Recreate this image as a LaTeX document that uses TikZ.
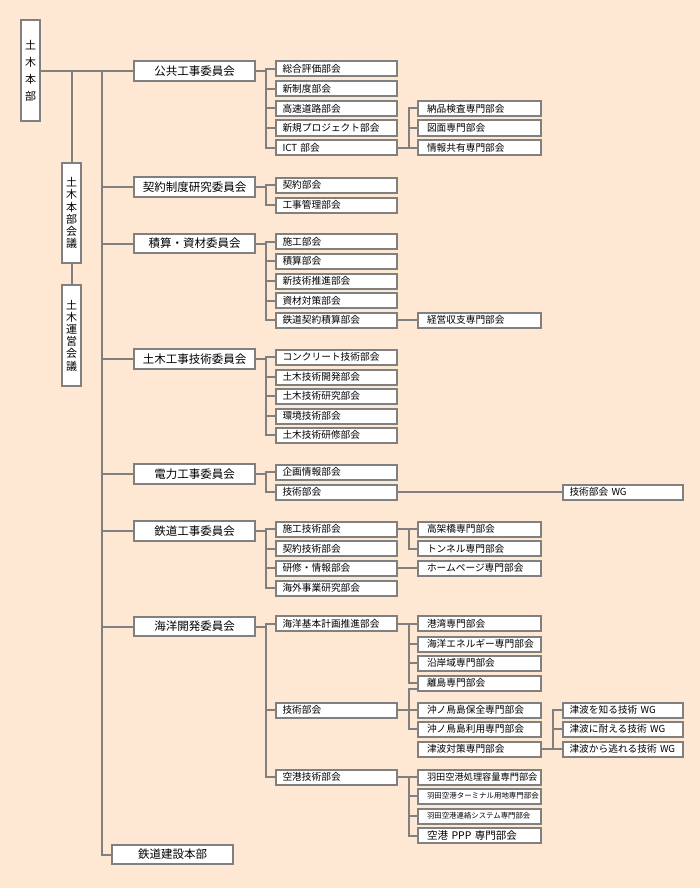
\documentclass[tikz,border=0pt]{standalone}
\usepackage{fontspec}
\setmainfont{Noto Sans CJK JP}
\usepackage{tikz}
\usetikzlibrary{positioning}
\definecolor{haikei}{HTML}{FFE8D3}
\definecolor{sengray}{HTML}{808080}

\tikzset{
  hako/.style={draw=sengray, line width=2pt, fill=white, inner ysep=0pt},
  tate/.style={hako, inner xsep=0pt, minimum width=19.5pt, align=center},
  iinkai/.style={hako, minimum width=121pt, minimum height=19.5pt,
    font=\fontsize{11.5}{12}\selectfont},
  bukai/.style={hako, inner xsep=6.5pt, text width=108pt, align=left,
    minimum height=15pt, font=\fontsize{9.7}{10}\selectfont},
  senmon/.style={bukai, inner xsep=9pt, text width=105pt},
  wg/.style={bukai, text width=107pt},
  sen/.style={draw=sengray, line width=2pt, line cap=rect}
}

\begin{document}
\begin{tikzpicture}[x=1pt, y=-1pt]
  \fill[haikei] (0,0) rectangle (700,888);

  % 本部と会議
  \node[tate, minimum height=101pt, font=\fontsize{11}{17}\selectfont]
    (honbu) at (30.5,71) {土\\木\\本\\部};
  \node[tate, minimum height=100pt, font=\fontsize{11}{12.2}\selectfont]
    (kaigi) at (71.5,213) {土\\木\\本\\部\\会\\議};
  \node[tate, minimum height=101pt, font=\fontsize{11}{12.2}\selectfont]
    (unei) at (71.5,335.5) {土\\木\\運\\営\\会\\議};

  % 委員会
  \node[iinkai] (k1) at (194.5,71) {公共工事委員会};
  \node[iinkai] (k2) at (194.5,187) {契約制度研究委員会};
  \node[iinkai] (k3) at (194.5,243.5) {積算・資材委員会};
  \node[iinkai] (k4) at (194.5,359) {土木工事技術委員会};
  \node[iinkai] (k5) at (194.5,474) {電力工事委員会};
  \node[iinkai] (k6) at (194.5,531) {鉄道工事委員会};
  \node[iinkai] (k7) at (194.5,626.5) {海洋開発委員会};
  \node[iinkai] (tetsuken) at (172.5,854.5) {鉄道建設本部};

  % 部会
  \node[bukai] (a1) at (336.5,69) {総合評価部会};
  \node[bukai] (a2) at (336.5,89) {新制度部会};
  \node[bukai] (a3) at (336.5,108.5) {高速道路部会};
  \node[bukai] (a4) at (336.5,128) {新規プロジェクト部会};
  \node[bukai] (a5) at (336.5,147.5) {ICT 部会};
  \node[bukai] (b1) at (336.5,185) {契約部会};
  \node[bukai] (b2) at (336.5,205) {工事管理部会};
  \node[bukai] (c1) at (336.5,241.5) {施工部会};
  \node[bukai] (c2) at (336.5,261) {積算部会};
  \node[bukai] (c3) at (336.5,281) {新技術推進部会};
  \node[bukai] (c4) at (336.5,300.5) {資材対策部会};
  \node[bukai] (c5) at (336.5,320) {鉄道契約積算部会};
  \node[bukai] (d1) at (336.5,357) {コンクリート技術部会};
  \node[bukai] (d2) at (336.5,377) {土木技術開発部会};
  \node[bukai] (d3) at (336.5,396) {土木技術研究部会};
  \node[bukai] (d4) at (336.5,416) {環境技術部会};
  \node[bukai] (d5) at (336.5,435) {土木技術研修部会};
  \node[bukai] (e1) at (336.5,472) {企画情報部会};
  \node[bukai] (e2) at (336.5,492) {技術部会};
  \node[bukai] (f1) at (336.5,529) {施工技術部会};
  \node[bukai] (f2) at (336.5,548.5) {契約技術部会};
  \node[bukai] (f3) at (336.5,568) {研修・情報部会};
  \node[bukai] (f4) at (336.5,588) {海外事業研究部会};
  \node[bukai] (g1) at (336.5,623.5) {海洋基本計画推進部会};
  \node[bukai] (g2) at (336.5,710) {技術部会};
  \node[bukai] (g3) at (336.5,777) {空港技術部会};

  % 専門部会
  \node[senmon] (n1) at (479.5,108.5) {納品検査専門部会};
  \node[senmon] (n2) at (479.5,128) {図面専門部会};
  \node[senmon] (n3) at (479.5,147.5) {情報共有専門部会};
  \node[senmon] (m1) at (479.5,320) {経営収支専門部会};
  \node[senmon] (p1) at (479.5,529) {高架橋専門部会};
  \node[senmon] (p2) at (479.5,548.5) {トンネル専門部会};
  \node[senmon] (p3) at (479.5,568) {ホームページ専門部会};
  \node[senmon] (h1) at (479.5,623.5) {港湾専門部会};
  \node[senmon] (h2) at (479.5,644) {海洋エネルギー専門部会};
  \node[senmon] (h3) at (479.5,663) {沿岸域専門部会};
  \node[senmon] (h4) at (479.5,683) {離島専門部会};
  \node[senmon] (h5) at (479.5,710) {沖ノ鳥島保全専門部会};
  \node[senmon] (h6) at (479.5,729) {沖ノ鳥島利用専門部会};
  \node[senmon] (h7) at (479.5,749) {津波対策専門部会};
  \node[senmon, font=\fontsize{9.2}{10}\selectfont] (j1) at (479.5,777) {羽田空港処理容量専門部会};
  \node[senmon, font=\fontsize{7.45}{9}\selectfont] (j2) at (479.5,796) {羽田空港ターミナル用地専門部会};
  \node[senmon, font=\fontsize{7.4}{9}\selectfont] (j3) at (479.5,816) {羽田空港連絡システム専門部会};
  \node[senmon, font=\fontsize{10.5}{11}\selectfont] (j4) at (479.5,835.5) {空港 PPP 専門部会};

  % WG
  \node[wg] (wg) at (623,492) {技術部会 WG};
  \node[wg] (w1) at (623,710) {津波を知る技術 WG};
  \node[wg] (w2) at (623,729) {津波に耐える技術 WG};
  \node[wg] (w3) at (623,749) {津波から逃れる技術 WG};

  \coordinate (kan) at (102,0);
  \coordinate (bus1) at (266,0);
  \coordinate (bus2) at (409,0);
  \coordinate (bus3) at (553,0);
  \coordinate (ritou) at ([yshift=2.5pt]h4.south west);

  % 幹線
  \draw[sen] (honbu.east) -- (k1.west);
  \draw[sen] (honbu.east -| kaigi) -- (kaigi.north) (kaigi.south) -- (unei.north);
  \draw[sen] (k1.west -| kan) |- (tetsuken.west);
  \foreach \k in {k2,k3,k4,k5,k6,k7}
    \draw[sen] (\k.west -| kan) -- (\k.west);

  % 委員会から部会へ
  \draw[sen] (k1.east) -- (k1.east -| bus1) (a1.west -| bus1) -- (a5.west -| bus1);
  \foreach \i in {1,...,5} \draw[sen] (a\i.west -| bus1) -- (a\i.west);
  \draw[sen] (k2.east) -- (k2.east -| bus1) (b1.west -| bus1) -- (b2.west -| bus1);
  \foreach \i in {1,2} \draw[sen] (b\i.west -| bus1) -- (b\i.west);
  \draw[sen] (k3.east) -- (k3.east -| bus1) (c1.west -| bus1) -- (c5.west -| bus1);
  \foreach \i in {1,...,5} \draw[sen] (c\i.west -| bus1) -- (c\i.west);
  \draw[sen] (k4.east) -- (k4.east -| bus1) (d1.west -| bus1) -- (d5.west -| bus1);
  \foreach \i in {1,...,5} \draw[sen] (d\i.west -| bus1) -- (d\i.west);
  \draw[sen] (k5.east) -- (k5.east -| bus1) (e1.west -| bus1) -- (e2.west -| bus1);
  \foreach \i in {1,2} \draw[sen] (e\i.west -| bus1) -- (e\i.west);
  \draw[sen] (k6.east) -- (k6.east -| bus1) (f1.west -| bus1) -- (f4.west -| bus1);
  \foreach \i in {1,...,4} \draw[sen] (f\i.west -| bus1) -- (f\i.west);
  \draw[sen] (k7.east) -- (k7.east -| bus1) (g1.west -| bus1) -- (g3.west -| bus1);
  \foreach \i in {1,2,3} \draw[sen] (g\i.west -| bus1) -- (g\i.west);

  % 部会から専門部会へ
  \draw[sen] (a5.east) -- (n3.west) (n1.west -| bus2) -- (n3.west -| bus2);
  \foreach \i in {1,2} \draw[sen] (n\i.west -| bus2) -- (n\i.west);
  \draw[sen] (c5.east) -- (m1.west);
  \draw[sen] (e2.east) -- (wg.west);
  \draw[sen] (f1.east) -- (p1.west) (p1.west -| bus2) |- (p2.west);
  \draw[sen] (f3.east) -- (p3.west);
  \draw[sen] (g1.east) -- (h1.west) (h1.west -| bus2) -- (h4.west -| bus2);
  \foreach \i in {2,3,4} \draw[sen] (h\i.west -| bus2) -- (h\i.west);
  \draw[sen] (ritou) -- (ritou -| bus2) |- (h6.west) (g2.east) -- (h5.west);
  \draw[sen] (h7.east) -- (w3.west) (w1.west -| bus3) |- (w3.west);
  \draw[sen] (w1.west -| bus3) -- (w1.west) (w2.west -| bus3) -- (w2.west);
  \draw[sen] (g3.east) -- (j1.west) (j1.west -| bus2) -- (j4.west -| bus2);
  \foreach \i in {2,3,4} \draw[sen] (j\i.west -| bus2) -- (j\i.west);
\end{tikzpicture}
\end{document}
